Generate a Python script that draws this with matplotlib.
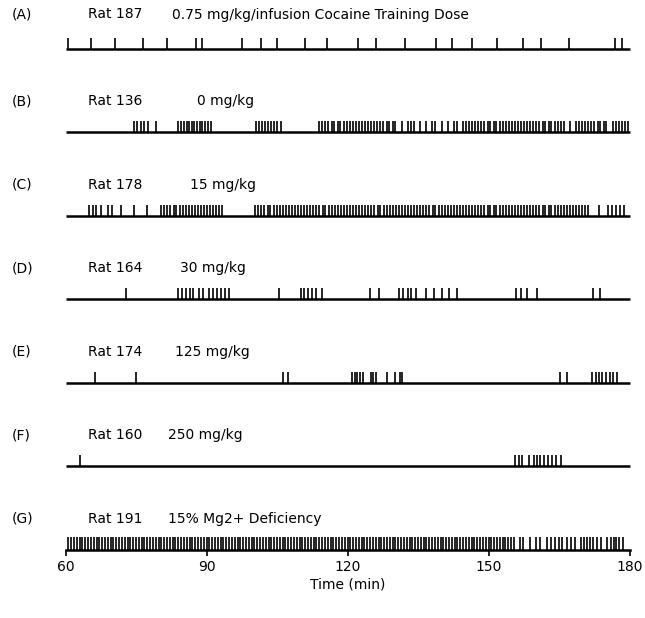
import matplotlib
matplotlib.use("Agg")
from matplotlib import pyplot as plt

# event times (min) for each rat
times_a = [60.5, 65.5, 70.6, 76.5, 81.6, 87.7, 89.0, 97.5, 101.6, 105.1, 111.0,
           115.7, 122.2, 126.1, 132.2, 138.8, 142.2, 146.4, 151.8, 157.3, 161.2,
           167.1, 176.9, 178.3]
times_b = [74.5, 75.3, 76.0, 76.8, 77.5, 79.2,
           84.0, 84.5, 85.2, 85.8, 86.3, 86.9, 87.4, 88.0, 88.6, 89.1, 89.7, 90.3, 90.9,
           100.6, 101.2, 101.9, 102.5, 103.1, 103.8, 104.4, 105.0, 105.8,
           114.0, 114.6, 115.3, 115.9, 116.6, 117.2, 117.9, 118.5, 119.2, 119.8, 120.5,
           121.1, 121.8, 122.4, 123.1, 123.7, 124.4, 125.0, 125.7, 126.3, 127.0, 127.6,
           128.3, 128.9, 129.6, 130.2, 131.5, 132.8, 133.5, 134.1, 135.4, 136.7, 138.0,
           138.6, 140.0, 141.3, 142.6, 143.3, 144.6, 145.2, 145.9, 146.5, 147.2, 147.8,
           148.5, 149.1, 149.8, 150.4, 151.1, 151.7, 152.4, 153.0, 153.7, 154.3, 155.0,
           155.6, 156.3, 156.9, 157.6, 158.2, 158.9, 159.5, 160.2, 160.8, 161.5, 162.1,
           162.8, 163.4, 164.1, 164.7, 165.4, 166.0, 167.3, 168.6, 169.3, 169.9, 170.6,
           171.2, 171.9, 172.5, 173.2, 173.8, 174.5, 175.1, 176.4, 177.1, 177.7, 178.4,
           179.0, 179.7]
times_c = [65.1, 65.8, 66.5, 67.5, 69.0, 69.9, 71.8, 74.5, 77.3,
           80.4, 81.0, 81.7, 82.3, 83.0, 83.6, 84.3, 84.9, 85.6, 86.2, 86.9, 87.5,
           88.2, 88.8, 89.5, 90.1, 90.8, 91.4, 92.1, 92.7, 93.3,
           100.4, 101.0, 101.7, 102.3, 103.0, 103.6, 104.3, 104.9, 105.6, 106.2,
           106.9, 107.5, 108.2, 108.8, 109.5, 110.1, 110.8, 111.4, 112.1, 112.7,
           113.4, 114.0, 114.7, 115.3, 116.0, 116.6, 117.3, 117.9, 118.6, 119.2,
           119.9, 120.5, 121.2, 121.8, 122.5, 123.1, 123.8, 124.4, 125.1, 125.7,
           126.4, 127.0, 127.7, 128.3, 129.0, 129.6, 130.3, 130.9, 131.6, 132.2,
           132.9, 133.5, 134.2, 134.8, 135.5, 136.1, 136.8, 137.4, 138.1, 138.7,
           139.4, 140.0, 140.7, 141.3, 142.0, 142.6, 143.3, 143.9, 144.6, 145.2,
           145.9, 146.5, 147.2, 147.8, 148.5, 149.1, 149.8, 150.4, 151.1, 151.7,
           152.4, 153.0, 153.7, 154.3, 155.0, 155.6, 156.3, 156.9, 157.6, 158.2,
           158.9, 159.5, 160.2, 160.8, 161.5, 162.1, 162.8, 163.4, 164.1, 164.7,
           165.4, 166.0, 166.7, 167.3, 168.0, 168.6, 169.3, 169.9, 170.6, 171.2,
           173.5, 175.5, 176.3, 177.2, 178.0, 178.9]
times_d = [72.8, 84.0, 84.8, 85.6, 86.4, 87.2, 88.5, 89.3, 90.6, 91.4, 92.2, 93.0,
           94.0, 94.8, 105.5, 110.0, 110.8, 111.6, 112.4, 113.2, 114.5,
           124.7, 126.8, 131.0, 131.8, 132.8, 133.6, 134.6, 136.8, 138.3, 140.0,
           141.6, 143.2, 155.8, 157.0, 158.2, 160.4, 172.3, 173.8]
times_e = [66.3, 75.0, 106.2, 107.3, 121.0, 121.7, 122.1, 122.6, 123.3, 124.9,
           125.5, 126.1, 128.3, 130.1, 131.2, 131.7, 165.2, 166.6, 172.0, 172.8,
           173.5, 174.2, 175.0, 175.8, 176.5, 177.3]
times_f = [63.1, 155.7, 156.4, 157.2, 158.6, 159.6, 160.3, 161.0, 161.8, 162.6,
           163.5, 164.4, 165.4]
times_g = [60.6, 61.2, 61.8, 62.4, 63.0, 63.6, 64.2, 64.8, 65.4, 66.0, 66.6, 67.2,
           67.8, 68.4, 69.0, 69.6, 70.2, 70.8, 71.4, 72.0, 72.6, 73.2, 73.8, 74.4,
           75.0, 75.6, 76.2, 76.8, 77.4, 78.0, 78.6, 79.2, 79.8, 80.4, 81.0, 81.6,
           82.2, 82.8, 83.4, 84.0, 84.6, 85.2, 85.8, 86.4, 87.0, 87.6, 88.2, 88.8,
           89.4, 90.0, 90.6, 91.2, 91.8, 92.4, 93.0, 93.6, 94.2, 94.8, 95.4, 96.0,
           96.6, 97.2, 97.8, 98.4, 99.0, 99.6, 100.2, 100.8, 101.4, 102.0, 102.6,
           103.2, 103.8, 104.4, 105.0, 105.6, 106.2, 106.8, 107.4, 108.0, 108.6,
           109.2, 109.8, 110.4, 111.0, 111.6, 112.2, 112.8, 113.4, 114.0, 114.6,
           115.2, 115.8, 116.4, 117.0, 117.6, 118.2, 118.8, 119.4, 120.0, 120.6,
           121.2, 121.8, 122.4, 123.0, 123.6, 124.2, 124.8, 125.4, 126.0, 126.6,
           127.2, 127.8, 128.4, 129.0, 129.6, 130.2, 130.8, 131.4, 132.0, 132.6,
           133.2, 133.8, 134.4, 135.0, 135.6, 136.2, 136.8, 137.4, 138.0, 138.6,
           139.2, 139.8, 140.4, 141.0, 141.6, 142.2, 142.8, 143.4, 144.0, 144.6,
           145.2, 145.8, 146.4, 147.0, 147.6, 148.2, 148.8, 149.4, 150.0, 150.6,
           151.2, 151.8, 152.4, 153.0, 153.6, 154.2, 154.8, 155.4, 156.6, 157.4,
           158.8, 160.0, 161.0, 162.4, 163.2, 164.2, 165.0, 165.6, 166.8, 167.6,
           168.4, 169.6, 170.4, 171.0, 171.6, 172.2, 173.0, 174.0, 175.2, 176.0,
           176.6, 177.2, 177.8, 178.6]

panels = ['(A)', '(B)', '(C)', '(D)', '(E)', '(F)', '(G)']
rats = ['Rat 187', 'Rat 136', 'Rat 178', 'Rat 164', 'Rat 174', 'Rat 160', 'Rat 191']
doses = ['0.75 mg/kg/infusion Cocaine Training Dose', '0 mg/kg', '15 mg/kg',
         '30 mg/kg', '125 mg/kg', '250 mg/kg', '15% Mg2+ Deficiency']
all_times = [times_a, times_b, times_c, times_d, times_e, times_f, times_g]

# where the dose text starts (pixels from left)
dose_x = [172, 197, 190, 180, 175, 168, 168]

W, H = 645, 618
top_px, bot_px = 48.5, 550.0
n = len(all_times)
row_px = (bot_px - top_px) / (n - 1)

fig = plt.figure(figsize=(W / 100, H / 100), dpi=100)
ax = fig.add_axes([65.5 / W, 1 - bot_px / H, 564 / W, (bot_px - top_px) / H])

for i, t in enumerate(all_times):
    y0 = n - 1 - i
    tl = (13 if i == n - 1 else 11) / row_px
    ax.vlines(t, y0, y0 + tl, color='black', lw=1.2, clip_on=False)
    if i < n - 1:
        ax.hlines(y0, 60, 180, color='black', lw=1.8, clip_on=False)
    off = 34 if i == 0 else 31
    ty = 1 - (top_px + i * row_px - off) / H
    fig.text(12 / W, ty, panels[i], fontsize=10, va='center', ha='left')
    fig.text(88 / W, ty, rats[i], fontsize=10, va='center', ha='left')
    fig.text(dose_x[i] / W, ty, doses[i], fontsize=10, va='center', ha='left')

ax.set_xlim(60, 180)
ax.set_ylim(0, n - 1)
for s in ['top', 'left', 'right']:
    ax.spines[s].set_visible(False)
ax.spines['bottom'].set_linewidth(1.8)
ax.set_yticks([])
ax.set_xticks([60, 90, 120, 150, 180])
ax.tick_params(axis='x', length=4, width=1.2, labelsize=10)
ax.set_xlabel('Time (min)', fontsize=10, labelpad=2)

fig.savefig('out.png', dpi=100)
